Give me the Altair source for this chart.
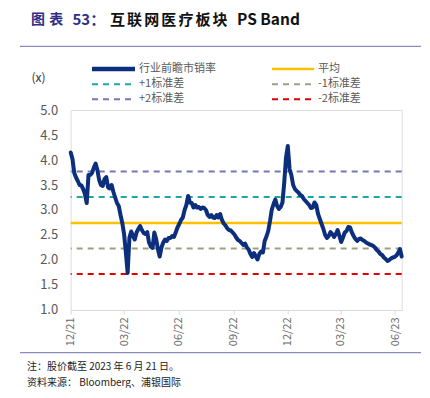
import altair as alt
import pandas as pd

# ---- data ----
start_date = "2021-12-01"
ps_values = [
    4.15, 4.02, 3.74, 3.65, 3.58, 3.50, 3.49, 3.42, 3.32, 3.14,
    3.70, 3.70, 3.74, 3.85, 3.93, 3.80, 3.60, 3.50, 3.48, 3.62,
    3.66, 3.45, 3.43, 3.50, 3.36, 3.25, 3.14, 3.08, 2.90, 2.74,
    2.52, 2.15, 1.74, 2.45, 2.57, 2.48, 2.41, 2.55, 2.62, 2.68,
    2.60, 2.54, 2.52, 2.56, 2.35, 2.27, 2.24, 2.55, 2.42, 2.22,
    2.07, 2.25, 2.35, 2.41, 2.38, 2.44, 2.44, 2.48, 2.46, 2.55,
    2.65, 2.72, 2.80, 2.85, 3.00, 3.10, 3.28, 3.15, 3.14, 3.05,
    3.10, 3.05, 3.06, 3.02, 3.05, 3.04, 3.00, 2.90, 2.86, 2.90,
    2.85, 2.84, 2.90, 2.85, 2.92, 2.80, 2.73, 2.69, 2.63, 2.60,
    2.59, 2.55, 2.51, 2.45, 2.40, 2.38, 2.34, 2.30, 2.33, 2.25,
    2.21, 2.12, 2.06, 2.14, 2.07, 2.01, 2.12, 2.17, 2.15, 2.38,
    2.47, 2.58, 2.78, 3.01, 3.12, 3.21, 3.08, 3.02, 3.06, 3.15,
    3.55, 4.05, 4.28, 3.82, 3.70, 3.50, 3.42, 3.38, 3.35, 3.30,
    3.28, 3.22, 3.18, 3.14, 3.10, 3.04, 3.05, 3.15, 3.10, 2.92,
    2.82, 2.72, 2.62, 2.50, 2.44, 2.48, 2.56, 2.52, 2.46, 2.52,
    2.60, 2.48, 2.36, 2.45, 2.55, 2.58, 2.66, 2.65, 2.55, 2.48,
    2.42, 2.38, 2.42, 2.43, 2.40, 2.38, 2.35, 2.33, 2.31, 2.30,
    2.28, 2.25, 2.20, 2.17, 2.12, 2.10, 2.05, 2.02, 1.98, 2.00,
    2.03, 2.05, 2.06, 2.09, 2.14, 2.22, 2.07,
]
band_names = ["平均", "+1标准差", "-1标准差", "+2标准差", "-2标准差"]
band_levels = [2.74, 3.26, 2.23, 3.77, 1.72]
y_ticks = [1.0, 1.5, 2.0, 2.5, 3.0, 3.5, 4.0, 4.5, 5.0]
x_tick_dates = [(2021, 12), (2022, 3), (2022, 6), (2022, 9), (2022, 12), (2023, 3), (2023, 6)]
x_end = (2023, 6, 12)

title_a = "图表"
title_num = "53："
title_b = "互联网医疗板块"
title_c = "PS Band"
note1 = "注：股价截至 2023 年 6 月 21 日。"
note2 = "资料来源： Bloomberg、浦银国际"
series_name = "行业前瞻市销率"

# ---- build tables ----
dates = pd.date_range(start_date, periods=len(ps_values), freq="3D").strftime("%Y-%m-%d")
df = pd.DataFrame({"date": dates, "ps": ps_values})

FONT = "Noto Sans CJK SC"
NAVY = "#0B2F7D"
GOLD = "#FFC000"
TEAL = "#1EA5A5"
OLIVE = "#A09E80"
PURPLE = "#7676B8"
RED = "#E00000"
GREY = "#595959"
band_colors = [GOLD, TEAL, OLIVE, PURPLE, RED]
band_dash = [[1, 0], [6, 5], [6, 5], [6, 5], [6, 5]]

W, H = 331, 200
x_scale = alt.Scale(
    type="utc",
    domain=[alt.DateTime(year=2021, month=12, date=1, utc=True),
            alt.DateTime(year=x_end[0], month=x_end[1], date=x_end[2], utc=True)],
)
y_scale = alt.Scale(domain=[1, 5], nice=False, zero=False)

x_enc = alt.X(
    "date:T", scale=x_scale, title=None,
    axis=alt.Axis(
        values=[alt.DateTime(year=y, month=m, date=1, utc=True) for y, m in x_tick_dates],
        format="%m/%y", labelAngle=270, labelFontSize=11, labelColor="#6B6B6B",
        labelFont=FONT, domainColor="#D9D9D9", tickColor="#D9D9D9", tickSize=4,
        labelPadding=3, grid=False, labelOverlap=False, labelFlush=False,
    ),
)
y_axis = alt.Axis(
    values=y_ticks, format=".1f", labelFontSize=13, labelColor=GREY, labelFont=FONT,
    domain=False, ticks=False, grid=False, labelPadding=13,
    labelOverlap=False, labelFlush=False,
)

base = alt.Chart(df)
line = base.mark_line(color=NAVY, strokeWidth=4, strokeJoin="round", strokeCap="round").encode(
    x=x_enc, y=alt.Y("ps:Q", scale=y_scale, axis=y_axis, title=None)
)

bands_df = pd.DataFrame({"name": band_names, "level": band_levels})
band_layers = []
for i, n in enumerate(band_names):
    band_layers.append(
        alt.Chart(bands_df[bands_df["name"] == n]).mark_rule(
            color=band_colors[i], strokeWidth=2.5 if i == 0 else 2, strokeDash=band_dash[i]
        ).encode(y=alt.Y("level:Q", scale=y_scale, axis=y_axis, title=None))
    )

one = pd.DataFrame({"k": [0]})


def txt(s, x, y, size=11, color=GREY, weight="normal", align="left"):
    return alt.Chart(one).mark_text(
        text=s, align=align, baseline="middle", font=FONT, fontSize=size,
        color=color, fontWeight=weight,
    ).encode(x=alt.value(x), y=alt.value(y))


def hrule(x1, x2, y, color, width=1, dash=None):
    kw = dict(color=color, strokeWidth=width)
    if dash:
        kw["strokeDash"] = dash
    return alt.Chart(one).mark_rule(**kw).encode(
        x=alt.value(x1), x2=alt.value(x2), y=alt.value(y)
    )


OX, OY = 70.7, 110  # plot origin on page
TY = 19.5
ann = []
# title (characters spaced like the reference)
for k, ch in enumerate(title_a):
    ann.append(txt(ch, 31 + 18.3 * k - OX, TY - OY, 14, "#2E2E86", "bold"))
ann.append(txt(title_num, 72.5 - OX, TY - OY, 15, "#2E2E86", "bold"))
for k, ch in enumerate(title_b):
    ann.append(txt(ch, 110 + 17.1 * k - OX, TY - OY, 15, "#111111", "bold"))
ann.append(txt(title_c, 237 - OX, TY - OY, 15.5, "#111111", "bold"))
# separator lines
ann.append(hrule(20 - OX, 421 - OX, 46.3 - OY, "#6E6EB0"))
ann.append(hrule(0 - OX, 2 - OX, 46.3 - OY, "#6E6EB0"))
ann.append(hrule(20 - OX, 421 - OX, 352.7 - OY, "#6E6EB0"))
ann.append(hrule(0 - OX, 2 - OX, 352.7 - OY, "#6E6EB0"))
# unit
ann.append(txt("(x)", 38.5 - OX, 77.5 - OY, 12, "#333333", align="center"))
# legend
rows = [69, 84.3, 99.3]
ann.append(hrule(92 - OX, 135 - OX, rows[0] - OY, NAVY, 4.5))
ann.append(txt(series_name, 139 - OX, rows[0] - OY, 11))
legend_items = [  # (column, row, band index)
    (1, 0, 0), (0, 1, 1), (1, 1, 2), (0, 2, 3), (1, 2, 4),
]
for col, row, bi in legend_items:
    lx1 = (92 if col == 0 else 272) - OX
    lx2 = (133 if col == 0 else 314) - OX
    tx = (139 if col == 0 else 318) - OX
    ann.append(hrule(lx1, lx2, rows[row] - OY, band_colors[bi],
                     2.5 if bi == 0 else 2, None if bi == 0 else [6, 5]))
    ann.append(txt(band_names[bi], tx, rows[row] - OY, 11))
# footnotes
ann.append(txt(note1, 27 - OX, 367 - OY, 10, "#222222"))
ann.append(txt(note2, 27 - OX, 383 - OY, 10, "#222222"))

chart = alt.layer(*band_layers, line, *ann).properties(
    width=W, height=H,
    autosize=alt.AutoSizeParams(type="none"),
    padding={"left": OX - 8, "top": OY - 8, "right": 20, "bottom": 78},
).configure_view(stroke=None).configure(background="white")

chart.save("out.html", embed_options={"renderer": "svg", "actions": False})
